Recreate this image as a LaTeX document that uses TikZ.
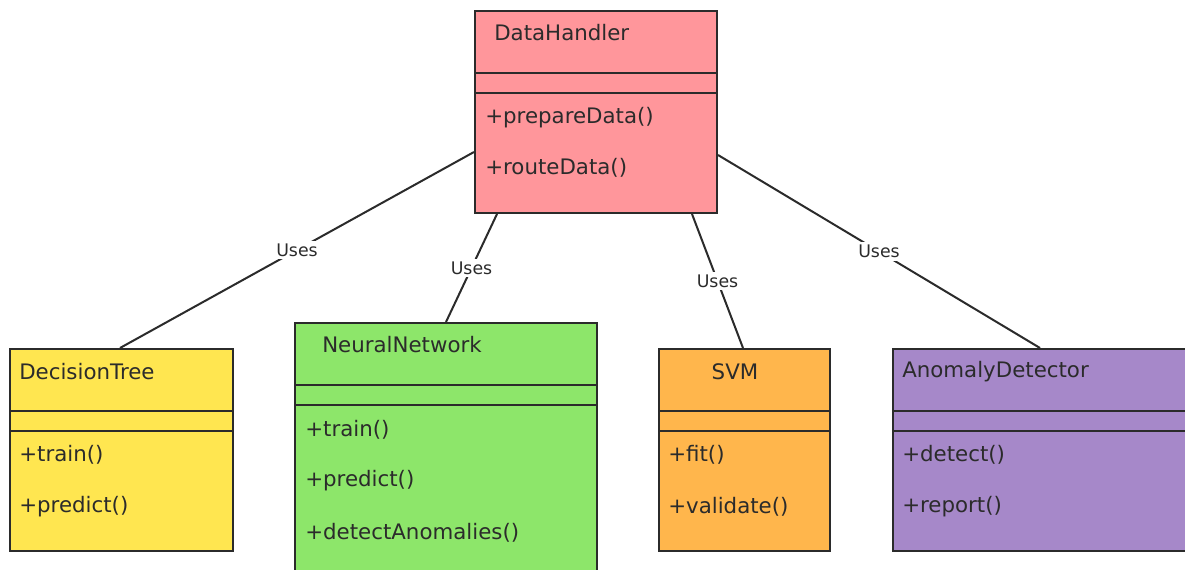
\documentclass[tikz,border=0pt]{standalone}
\usepackage{fontspec}
\setmainfont{DejaVu Sans}
\usetikzlibrary{calc}

\definecolor{handlerpink}{HTML}{FF969B}
\definecolor{treeyellow}{HTML}{FFE650}
\definecolor{netgreen}{HTML}{8DE66A}
\definecolor{svmorange}{HTML}{FFB64C}
\definecolor{detectpurple}{HTML}{A688C9}
\definecolor{inkgrey}{HTML}{2B2B2B}

\begin{document}
\begin{tikzpicture}[x=0.75pt, y=-0.75pt,
    classbox/.style={draw=inkgrey, line width=1.5pt, anchor=north west, inner sep=0pt,
        minimum height=151.5pt},
    member/.style={anchor=west, inner sep=0pt, text=inkgrey,
        font=\fontsize{16}{19}\selectfont},
    uses/.style={fill=white, inner sep=2pt, text=inkgrey,
        font=\fontsize{13}{15}\selectfont},
    link/.style={draw=inkgrey, line width=1.5pt}]
    \clip (0,0) rectangle (1185,570);

    % Class boxes
    \node[classbox, fill=handlerpink, minimum width=181.5pt] (dh) at (474,10) {};
    \node[classbox, fill=treeyellow, minimum width=167.25pt] (dt) at (9,348) {};
    \node[classbox, fill=netgreen, minimum width=226.5pt, minimum height=210pt] (nn) at (294,322) {};
    \node[classbox, fill=svmorange, minimum width=128.25pt] (svm) at (658,348) {};
    \node[classbox, fill=detectpurple, minimum width=232.5pt] (ad) at (892,348) {};

    % Compartments
    \foreach \c in {dh,dt,nn,svm,ad} {
        \draw[inkgrey, line width=1.2pt] ($(\c.north west)+(0,63)$) -- ($(\c.north east)+(0,63)$);
        \draw[inkgrey, line width=1.2pt] ($(\c.north west)+(0,83)$) -- ($(\c.north east)+(0,83)$);
    }

    % Names
    \node[member] (dh-name) at (494,33) {DataHandler};
    \node[member] (dt-name) at (19,372) {DecisionTree};
    \node[member] (nn-name) at (322,345) {NeuralNetwork};
    \node[member, anchor=center] (svm-name) at (735,372) {SVM};
    \node[member] (ad-name) at (902,372) {AnomalyDetector};

    % Methods
    \node[member] (dh-m1) at (485,118) {+prepareData()};
    \node[member] (dh-m2) at (485,168) {+routeData()};
    \node[member] (dt-m1) at (19,455) {+train()};
    \node[member] (dt-m2) at (19,507) {+predict()};
    \node[member] (nn-m1) at (305,430) {+train()};
    \node[member] (nn-m2) at (305,481) {+predict()};
    \node[member] (nn-m3) at (305,533) {+detectAnomalies()};
    \node[member] (svm-m1) at (668,455) {+fit()};
    \node[member] (svm-m2) at (668,507) {+validate()};
    \node[member] (ad-m1) at (902,455) {+detect()};
    \node[member] (ad-m2) at (902,507) {+report()};

    % Uses links
    \draw[link] ($(dh.north west)+(0,142)$) -- ($(dt.north west)+(111,0)$) node[midway, uses] (u1) {Uses};
    \draw[link] ($(dh.south west)+(23,0)$) -- ($(nn.north west)+(152,0)$) node[midway, uses] (u2) {Uses};
    \draw[link] ($(dh.south west)+(218,0)$) -- ($(svm.north west)+(85,0)$) node[midway, uses] (u3) {Uses};
    \draw[link] ($(dh.north east)+(0,145)$) -- ($(ad.north west)+(148,0)$) node[midway, uses] (u4) {Uses};
\end{tikzpicture}
\end{document}
